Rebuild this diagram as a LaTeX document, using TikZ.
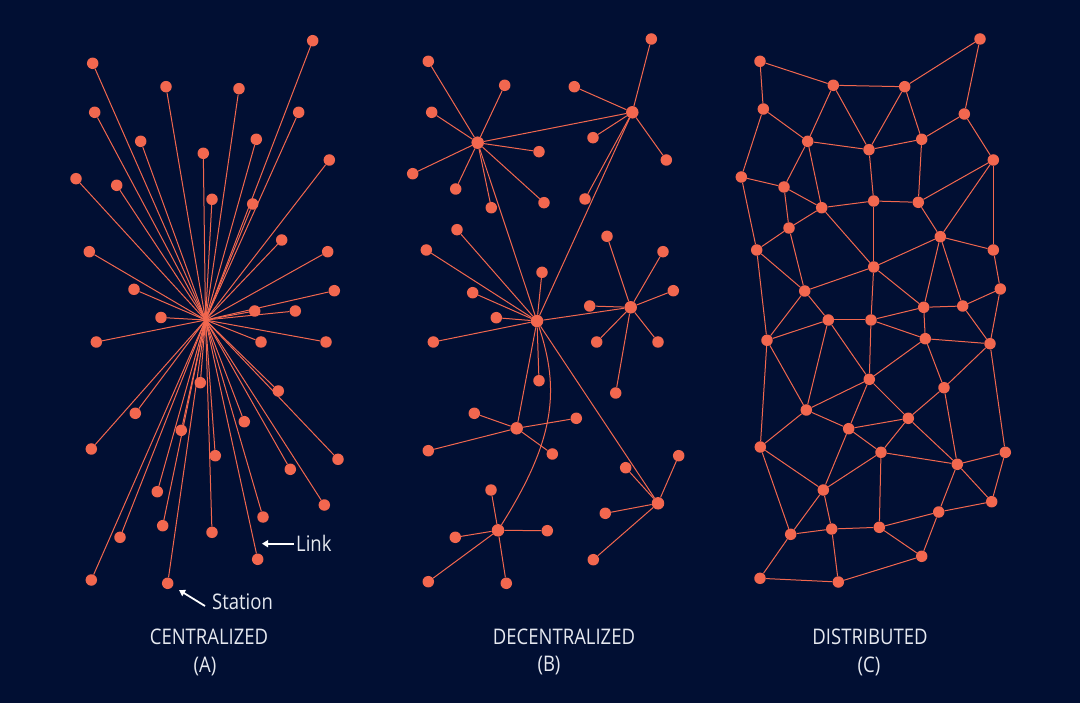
\documentclass[tikz,border=0pt]{standalone}
\usepackage{fontspec}
\setmainfont{Open Sans}[FakeStretch=0.86]
\usetikzlibrary{arrows.meta}
\definecolor{navy}{HTML}{010F33}
\definecolor{coral}{HTML}{F2674F}
\definecolor{labelgray}{HTML}{E6E9F0}
\pgfdeclarelayer{back}
\pgfdeclarelayer{edges}
\pgfsetlayers{back,edges,main}
\tikzset{
	station/.style={circle, fill=coral, inner sep=0pt, minimum size=11.5pt},
	hub/.style={station, minimum size=12.5pt},
	link/.style={draw=coral, line width=1pt},
	caption/.style={text=labelgray, inner sep=0pt, font=\fontsize{21.5}{24}\selectfont},
	pointer/.style={draw=white, line width=1.8pt, -{Triangle[length=6pt,width=7pt]}}
}

\begin{document}
\begin{tikzpicture}[x=1pt, y=-1pt]
		%%%%% BACKGROUND %%%%%
		\begin{pgfonlayer}{back}
			\fill[navy] (0,0) rectangle (1080,703);
		\end{pgfonlayer}
		
		%%%%% (A) CENTRALIZED %%%%%
		\coordinate (hubA) at (205.5,320);
		\foreach \x/\y [count=\i] in {92.7/63.3, 312.7/40.7, 166/86.7, 239/88.7, 94.7/112.3, 298.7/112.3,
			140.7/141.3, 256.3/139.3, 203.3/153.3, 329.3/160, 76/178.7, 116.7/185.3, 212/199.3,
			252.7/204, 281.7/240, 89.3/251.7, 327.7/251.7, 134/289.3, 334.3/290.7, 161/317.5,
			254.7/311, 295.3/311, 96.3/342, 261/342, 326/342, 200.3/382.7, 278.3/391, 135.3/413.3,
			244.3/421.7, 181.3/430.3, 91.3/449, 215.3/455.7, 338/459.3, 290.3/469.3, 157.3/491.7,
			324.3/505, 263/517, 162.7/525.7, 212/532.3, 120/537.3, 257.7/559.3, 91.3/580, 167.7/583.3}
		{
			\node[station] (a\i) at (\x,\y) {};
			\begin{pgfonlayer}{edges}
				\draw[link] (a\i) -- (hubA);
			\end{pgfonlayer}
		}
		
		\node[caption, anchor=west, inner sep=2.5pt] (lbLink) at (293.5,543.7) {Link};
		\coordinate (linkTip) at (262,543.7);
		\draw[pointer] (lbLink.west) -- (linkTip);
		\node[caption, anchor=west] (lbStation) at (212,602) {Station};
		\coordinate (stTail) at (205,606);
		\coordinate (stTip) at (179,590);
		\draw[pointer] (stTail) -- (stTip);
		
		\node[caption] (capA) at (209,637) {CENTRALIZED};
		\node[caption] (subA) at (205,666) {(A)};
		
		%%%%% (B) DECENTRALIZED %%%%%
		\node[hub] (h1) at (477.7,142.7) {};
		\node[hub] (h2) at (632.3,112.3) {};
		\node[hub] (h3) at (537,321) {};
		\node[hub] (h4) at (630.7,307.3) {};
		\node[hub] (h5) at (516.7,428.3) {};
		\node[hub] (h6) at (498,530.3) {};
		\node[hub] (h7) at (658,503.3) {};
		\begin{pgfonlayer}{edges}
			\draw[link] (h1) -- (h2);
			\draw[link] (h1) -- (h3);
			\draw[link] (h2) -- (h3);
			\draw[link] (h3) -- (h4);
			\draw[link] (h3) -- (h5);
			\draw[link] (h3) -- (h7);
			\draw[link] (h3) .. controls (560,390) and (555,440) .. (h6);
		\end{pgfonlayer}
		\foreach \h/\x/\y [count=\i] in {1/428.3/61.3, 1/504.7/85.3, 1/431.7/112.3, 1/539/151.7,
			1/412.7/173.7, 1/455.7/189, 1/491.3/207.7, 1/544/202.7,
			2/651.3/39, 2/574.3/86.7, 2/593/137.7, 2/666.3/160, 2/585/199,
			3/457/229.7, 3/426.3/250, 3/542/272.3, 3/472.7/292.7, 3/496.3/317.7, 3/433.3/342, 3/539/380.7,
			4/607/236.3, 4/663/251.7, 4/673.3/290.7, 4/589.7/306, 4/596.7/342, 4/658/342, 4/615.7/393,
			5/474.3/413.3, 5/576.3/418.3, 5/428.3/450.7, 5/552.3/454,
			6/491/490, 6/547.3/530.7, 6/455.3/537.3, 6/428.3/581.7, 6/506.3/583.3,
			7/625.7/467.7, 7/678.7/455.7, 7/605.3/513.3, 7/593.3/559.7}
		{
			\node[station] (b\i) at (\x,\y) {};
			\begin{pgfonlayer}{edges}
				\draw[link] (b\i) -- (h\h);
			\end{pgfonlayer}
		}
		
		\node[caption] (capB) at (564,637) {DECENTRALIZED};
		\node[caption] (subB) at (549,666) {(B)};
		
		%%%%% (C) DISTRIBUTED %%%%%
		\foreach \x/\y [count=\i] in {760/61.3, 980/39, 833.3/85.3, 904.7/86.7, 763.3/109, 964.3/114,
			807.7/141.3, 869/149.7, 921.7/139.3, 993.3/160, 741.3/177, 784/187, 821.7/207.7,
			873.7/201, 918.3/202.3, 789/228, 940.3/236.7, 756.7/250, 993.3/250, 873.7/267,
			804.7/291, 1000.3/289, 923.7/307.3, 962.7/306, 828.3/320, 871/320, 767/340.3,
			925.3/338.7, 990/343.7, 869.3/379.3, 944/387.7, 806.3/410, 908.3/418.3, 848.7/428.7,
			760.3/447, 881/452.3, 1005.3/452.3, 957.3/464.3, 823.3/490, 991.7/501.7, 938.7/512,
			790.7/534.3, 831.7/529, 879.3/527.3, 921.7/556.3, 760/578.3, 838.3/582}
		{
			\node[station] (c\i) at (\x,\y) {};
		}
		\begin{pgfonlayer}{edges}
			\foreach \p/\q in {1/3, 1/5, 3/4, 4/2, 2/6, 5/7, 3/7, 3/8, 4/8, 4/9, 7/8, 8/9, 9/6, 6/10,
				5/11, 7/12, 7/13, 11/12, 12/13, 12/16, 13/14, 8/14, 14/15, 9/15, 15/10, 11/18, 16/13,
				16/18, 16/21, 13/20, 14/20, 15/17, 10/17, 10/19, 17/19, 17/20, 18/21, 18/27, 20/21,
				21/25, 21/27, 20/26, 20/23, 17/23, 17/24, 19/22, 22/24, 23/24, 22/29, 25/26, 26/23,
				23/28, 24/29, 26/28, 28/29, 27/25, 25/30, 25/32, 26/30, 28/30, 28/31, 29/31, 29/37,
				27/32, 27/35, 30/32, 30/34, 30/33, 31/33, 31/38, 32/34, 32/35, 34/33, 34/36, 34/39,
				33/36, 33/38, 36/38, 38/37, 37/40, 38/40, 38/41, 36/39, 36/44, 35/39, 35/42, 39/42,
				39/43, 42/43, 43/44, 44/41, 41/40, 44/45, 41/45, 42/46, 43/47, 46/47, 47/45}
			\draw[link] (c\p) -- (c\q);
		\end{pgfonlayer}
		
		\node[caption] (capC) at (870,637) {DISTRIBUTED};
		\node[caption] (subC) at (869,666) {(C)};
	\end{tikzpicture}
\end{document}
